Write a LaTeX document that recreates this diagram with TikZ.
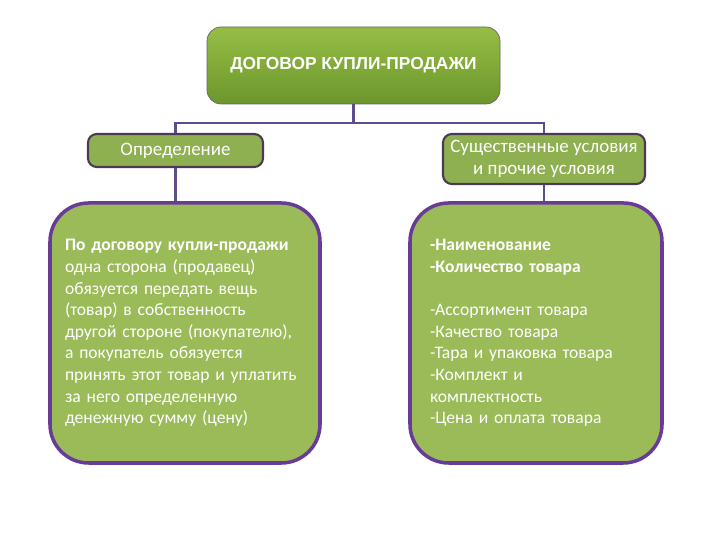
\documentclass[tikz,border=0pt]{standalone}
\usepackage{fontspec}
\setmainfont{Carlito}
\newfontfamily\titlefont{Liberation Sans}
\usetikzlibrary{positioning}
\definecolor{leafgreen}{RGB}{155, 187, 89}
\definecolor{boxgreen}{RGB}{143, 176, 80}
\definecolor{topgreen}{RGB}{150, 190, 70}
\definecolor{deepgreen}{RGB}{108, 150, 44}
\definecolor{linkpurple}{RGB}{96, 76, 138}
\definecolor{framepurple}{RGB}{104, 60, 150}
\definecolor{darkframe}{RGB}{74, 58, 82}

\begin{document}
\begin{tikzpicture}[
    headbox/.style={draw=black!60, rounded corners=8pt, top color=topgreen,
                    bottom color=deepgreen, minimum width=5.86cm,
                    minimum height=1.54cm, text=white,
                    font=\titlefont\bfseries\fontsize{9.9}{12}\selectfont},
    topicbox/.style={draw=darkframe, line width=1.2pt, rounded corners=5pt,
                     fill=boxgreen, text=white, align=center,
                     font=\fontsize{10.8}{12.4}\selectfont},
    infobox/.style={draw=framepurple, line width=2pt, rounded corners=22pt,
                    fill=leafgreen, text=white, align=left,
                    minimum height=5.2cm, inner xsep=0.3cm,
                    font=\fontsize{10}{12.3}\selectfont},
    link/.style={draw=linkpurple, line width=1.6pt}
]
    \useasboundingbox (0,0) rectangle (14.4,10.8);
    \node[headbox] (contract) at (7.07,9.49) {ДОГОВОР КУПЛИ-ПРОДАЖИ};
    \node[topicbox, minimum width=3.5cm, minimum height=0.66cm] (definition)
        at (3.51,7.79) {Определение};
    \node[topicbox, minimum width=4.04cm, minimum height=1.0cm] (terms)
        at (10.88,7.62) {Существенные условия\\и прочие условия};
    \node[infobox, text width=4.8cm] (definitiontext) at (3.7,4.14)
        {\textbf{По договору купли-продажи}\\одна сторона (продавец)\\
         обязуется передать вещь\\(товар) в собственность\\
         другой стороне (покупателю),\\а покупатель обязуется\\
         принять этот товар и уплатить\\за него определенную\\
         денежную сумму (цену)};
    \node[infobox, inner xsep=0.4cm, text width=4.24cm] (termstext) at (10.72,4.14)
        {\textbf{-Наименование}\\\textbf{-Количество товара}\\[12.3pt]
         -Ассортимент товара\\-Качество товара\\-Тара и упаковка товара\\
         -Комплект и\\комплектность\\-Цена и оплата товара};
    % connectors
    \coordinate (bus) at (7.07,8.34);
    \draw[link] (contract.south) -- (bus);
    \draw[link] (definition.north) |- (bus) -| (terms.north);
    \draw[link] (definition.south) -- (definition.south |- definitiontext.north);
    \draw[link] (terms.south) -- (terms.south |- termstext.north);
\end{tikzpicture}
\end{document}
